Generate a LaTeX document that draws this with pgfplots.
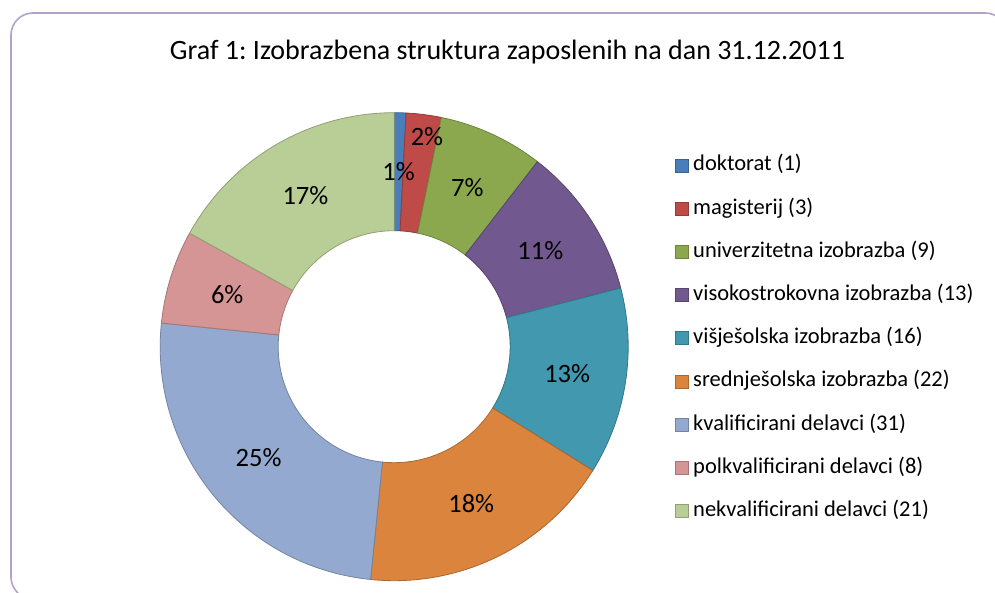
\documentclass[border=0pt]{standalone}
\usepackage{pgfplots}
\pgfplotsset{compat=1.18}
\usepackage{pgfplotstable}
\usepackage{fontspec}
\setmainfont{Carlito}
\frenchspacing
\definecolor{c1}{HTML}{4A7EBB}
\definecolor{c2}{HTML}{BE4B48}
\definecolor{c3}{HTML}{8CA84F}
\definecolor{c4}{HTML}{71588F}
\definecolor{c5}{HTML}{4198AF}
\definecolor{c6}{HTML}{DB843D}
\definecolor{c7}{HTML}{93A9D0}
\definecolor{c8}{HTML}{D69595}
\definecolor{c9}{HTML}{B9CD96}
\definecolor{framecol}{HTML}{B3A2C7}

\pgfplotstableread[col sep=comma]{
label,value,col,pct,lr,la
doktorat (1),1,c1,1,175,0
magisterij (3),3,c2,2,213,-1.6
univerzitetna izobrazba (9),9,c3,7,175,0
visokostrokovna izobrazba (13),13,c4,11,175,0
višješolska izobrazba (16),16,c5,13,175,0
srednješolska izobrazba (22),22,c6,18,175,0
kvalificirani delavci (31),31,c7,25,175,0
polkvalificirani delavci (8),8,c8,6,175,0
nekvalificirani delavci (21),21,c9,17,175,0
}\slices

\tikzset{
  lbl/.style={font=\fontsize{26.5}{30}\selectfont, inner sep=0pt},
  leg/.style={font=\fontsize{22.5}{26}\selectfont, inner sep=0pt},
}

\begin{document}
\begin{tikzpicture}
\begin{axis}[x=1pt, y=1pt, xmin=0, xmax=995, ymin=0, ymax=593,
  hide axis, scale only axis]
\path (axis cs:0,0) rectangle (axis cs:995,593);
% frame
\pgfmathsetmacro\bx{33+22*cos(227)}
\pgfmathsetmacro\by{16+22*sin(227)}
\draw[framecol, line width=1.6pt] (axis cs:\bx,\by) arc[start angle=227, end angle=180, radius=22pt]
  -- (axis cs:11,558) arc[start angle=180, end angle=90, radius=22pt]
  -- (axis cs:985,580) arc[start angle=90, end angle=60, radius=22pt];
% title
\node[font=\fontsize{28}{32}\selectfont, anchor=base, inner sep=0pt] at (axis cs:507.5,533) {Graf 1: Izobrazbena struktura zaposlenih na dan 31.12.2011};
% total
\pgfplotstablegetrowsof{\slices}
\pgfmathtruncatemacro\N{\pgfplotsretval-1}
\def\total{0}
\pgfplotsforeachungrouped \i in {0,...,\N}{%
  \pgfplotstablegetelem{\i}{value}\of\slices
  \pgfmathsetmacro\total{\total+\pgfplotsretval}%
}
\def\cum{0}
\pgfplotsforeachungrouped \i in {0,...,\N}{%
  \pgfplotstablegetelem{\i}{value}\of\slices \let\slval\pgfplotsretval
  \pgfplotstablegetelem{\i}{col}\of\slices \let\slcol\pgfplotsretval
  \pgfplotstablegetelem{\i}{label}\of\slices \let\sllab\pgfplotsretval
  \pgfmathsetmacro\aS{90-360*(\cum/\total)}%
  \pgfmathsetmacro\cum{\cum+\slval}%
  \pgfmathsetmacro\aE{90-360*(\cum/\total)}%
  \pgfmathsetmacro\xa{394.2+234*cos(\aS)}%
  \pgfmathsetmacro\ya{246.3+234*sin(\aS)}%
  \pgfmathsetmacro\xb{394.2+116*cos(\aE)}%
  \pgfmathsetmacro\yb{246.3+116*sin(\aE)}%
  \pgfmathsetmacro\ly{593-171-43.2*\i}%
  \pgfmathsetmacro\sqa{\ly-1}%
  \pgfmathsetmacro\sqb{\ly+12}%
  \edef\doit{%
    \noexpand\fill[\slcol, draw=\slcol!78!black, line width=0.8pt, line join=round]
      (axis cs:\xa,\ya) arc[start angle=\aS, end angle=\aE, radius=234pt]
      -- (axis cs:\xb,\yb) arc[start angle=\aE, end angle=\aS, radius=116pt] -- cycle;
    \noexpand\fill[\slcol, draw=\slcol!78!black, line width=0.8pt]
      (axis cs:675.5,\sqa) rectangle (axis cs:688.5,\sqb);
    \noexpand\node[leg, anchor=base west] at (axis cs:693,\ly) {\sllab};
  }%
  \doit
}
\def\cum{0}
\pgfplotsforeachungrouped \i in {0,...,\N}{%
  \pgfplotstablegetelem{\i}{value}\of\slices \let\slval\pgfplotsretval
  \pgfplotstablegetelem{\i}{pct}\of\slices \let\slpct\pgfplotsretval
  \pgfplotstablegetelem{\i}{lr}\of\slices \let\sllr\pgfplotsretval
  \pgfplotstablegetelem{\i}{la}\of\slices \let\slla\pgfplotsretval
  \pgfmathsetmacro\aS{90-360*(\cum/\total)}%
  \pgfmathsetmacro\cum{\cum+\slval}%
  \pgfmathsetmacro\aE{90-360*(\cum/\total)}%
  \pgfmathsetmacro\aM{(\aS+\aE)/2+\slla}%
  \pgfmathsetmacro\xl{394.2+\sllr*cos(\aM)}%
  \pgfmathsetmacro\yl{246.3+\sllr*sin(\aM)}%
  \edef\doit{%
    \noexpand\node[lbl] at (axis cs:\xl,\yl) {\slpct\noexpand\%};
  }%
  \doit
}
\end{axis}
\end{tikzpicture}
\end{document}
